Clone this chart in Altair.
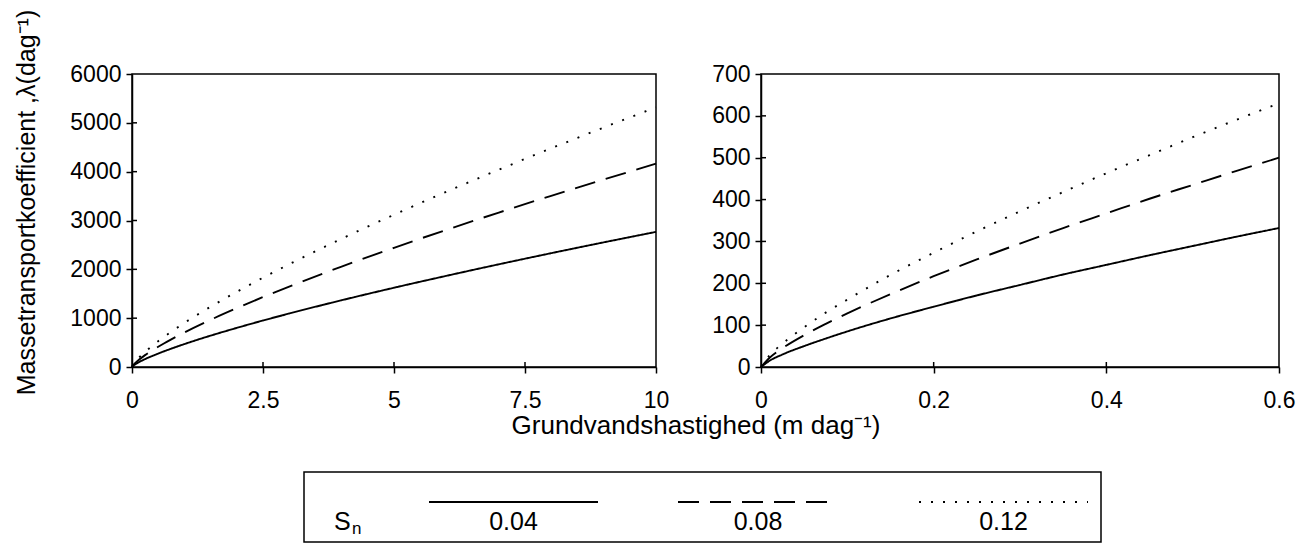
import altair as alt
import pandas as pd

FONT = "Liberation Sans"

# ---- data ----
sn_levels = ["0.04", "0.08", "0.12"]
dash_patterns = [[1, 0], [21, 11], [2, 10]]

left_x = [0, 0.025, 0.05, 0.1, 0.25, 0.5, 0.75, 1, 1.5, 2, 2.5, 3, 4, 5, 6, 7, 8, 9, 10]
left_s004 = [0, 27, 47, 80, 162, 275, 376, 470, 642, 801, 952, 1095, 1367, 1623, 1867, 2103, 2331, 2552, 2767]
left_s008 = [0, 41, 70, 120, 243, 414, 566, 707, 966, 1205, 1432, 1647, 2056, 2441, 2809, 3163, 3506, 3839, 4163]
left_s012 = [0, 53, 90, 154, 311, 529, 723, 903, 1234, 1540, 1829, 2104, 2626, 3118, 3588, 4040, 4478, 4903, 5317]

right_x = [0, 0.01, 0.025, 0.05, 0.075, 0.1, 0.15, 0.2, 0.25, 0.3, 0.35, 0.4, 0.45, 0.5, 0.55, 0.6]
right_s004 = [0, 15, 30, 50, 68, 85, 116, 144, 171, 196, 221, 244, 267, 289, 311, 332]
right_s008 = [0, 22, 45, 76, 103, 128, 174, 217, 257, 295, 332, 367, 402, 435, 468, 500]
right_s012 = [0, 28, 56, 95, 130, 161, 220, 273, 324, 372, 418, 463, 506, 549, 590, 630]

left_xticks = [0, 2.5, 5, 7.5, 10]
left_yticks = [0, 1000, 2000, 3000, 4000, 5000, 6000]
right_xticks = [0, 0.2, 0.4, 0.6]
right_yticks = [0, 100, 200, 300, 400, 500, 600, 700]

y_title = "Massetransportkoefficient ,λ(dag⁻¹)"
x_title = "Grundvandshastighed (m dag⁻¹)"
legend_title = "S"
legend_sub = "n"


def long_df(xs, series):
    rows = []
    for lvl, ys in zip(sn_levels, series):
        for x, y in zip(xs, ys):
            rows.append({"x": x, "y": y, "Sn": lvl})
    return pd.DataFrame(rows)


H = 293


def panel(df, xticks, yticks, width, with_title):
    xs = alt.Scale(domain=[xticks[0], xticks[-1]], nice=False, zero=True)
    ys = alt.Scale(domain=[yticks[0], yticks[-1]], nice=False)
    yaxis_kw = dict(values=yticks, labelExpr="'' + datum.value", tickSize=6,
                    labelPadding=5, labelFontSize=23, labelFlush=False)
    if with_title:
        yaxis_kw.update(title=y_title, titleX=-106, titleY=128, titleAngle=270,
                        titleAlign="center", titleBaseline="middle",
                        titleFontSize=25, titleFont=FONT, titleFontWeight="normal",
                        titleColor="black")
    else:
        yaxis_kw.update(title=None)
    lines = alt.Chart(df).mark_line(color="black", strokeWidth=1.9,
                                    interpolate="monotone").encode(
        x=alt.X("x:Q", scale=xs,
                axis=alt.Axis(values=xticks, labelExpr="'' + datum.value", title=None,
                              tickSize=6, labelPadding=16, labelFontSize=23,
                              labelFlush=False, labelOverlap=False)),
        y=alt.Y("y:Q", scale=ys, axis=alt.Axis(**yaxis_kw)),
        strokeDash=alt.StrokeDash("Sn:N", scale=alt.Scale(domain=sn_levels, range=dash_patterns),
                                  legend=None),
        detail="Sn:N",
    )
    ytick_df = pd.DataFrame({"y": yticks[1:-1]})
    xtick_df = pd.DataFrame({"x": xticks[1:-1]})
    inner_y = alt.Chart(ytick_df).mark_rule(color="black", strokeWidth=1.5).encode(
        y=alt.Y("y:Q", scale=ys), x=alt.value(0), x2=alt.value(5))
    inner_x = alt.Chart(xtick_df).mark_rule(color="black", strokeWidth=1.5).encode(
        x=alt.X("x:Q", scale=xs), y=alt.value(H), y2=alt.value(H - 5))
    return [lines, inner_y, inner_x]


# ---- shared x title and legend box (placed below the left panel) ----
one = pd.DataFrame({"a": [0]})
base = alt.Chart(one)
extras = [
    base.mark_text(text=x_title, font=FONT, fontSize=26, align="center",
                   baseline="alphabetic", color="black").encode(
        x=alt.value(564), y=alt.value(360)),
    base.mark_rect(fillOpacity=0, stroke="black", strokeWidth=1.5).encode(
        x=alt.value(172), x2=alt.value(969), y=alt.value(398), y2=alt.value(468)),
    base.mark_text(text=legend_title, font=FONT, fontSize=25, align="left",
                   baseline="alphabetic", color="black").encode(
        x=alt.value(202), y=alt.value(456)),
    base.mark_text(text=legend_sub, font=FONT, fontSize=17, align="left",
                   baseline="alphabetic", color="black").encode(
        x=alt.value(220), y=alt.value(460)),
]
leg_x = [(297, 466), (546, 706), (787, 956)]
for lvl, dash, (x0, x1) in zip(sn_levels, dash_patterns, leg_x):
    extras.append(base.mark_rule(color="black", strokeWidth=2, strokeDash=dash).encode(
        x=alt.value(x0), x2=alt.value(x1), y=alt.value(428)))
    extras.append(base.mark_text(text=lvl, font=FONT, fontSize=25, align="center",
                                 baseline="alphabetic", color="black").encode(
        x=alt.value((x0 + x1) / 2), y=alt.value(456)))

left = alt.layer(
    *panel(long_df(left_x, [left_s004, left_s008, left_s012]),
           left_xticks, left_yticks, 524, True),
    *extras
).properties(width=524, height=H)

right = alt.layer(
    *panel(long_df(right_x, [right_s004, right_s008, right_s012]),
           right_xticks, right_yticks, 518, False)
).properties(width=518, height=H)

chart = alt.hconcat(left, right, spacing=105, bounds="flush").properties(
    padding={"left": 5, "top": 0, "right": 0, "bottom": 0}
).configure_axis(
    grid=False, domainColor="black", domainWidth=1.5, tickColor="black", tickWidth=1.5,
    labelColor="black", labelFont=FONT
).configure_view(stroke="black", strokeWidth=1.5)

chart.save("out.html", embed_options={"renderer": "svg", "actions": False})
